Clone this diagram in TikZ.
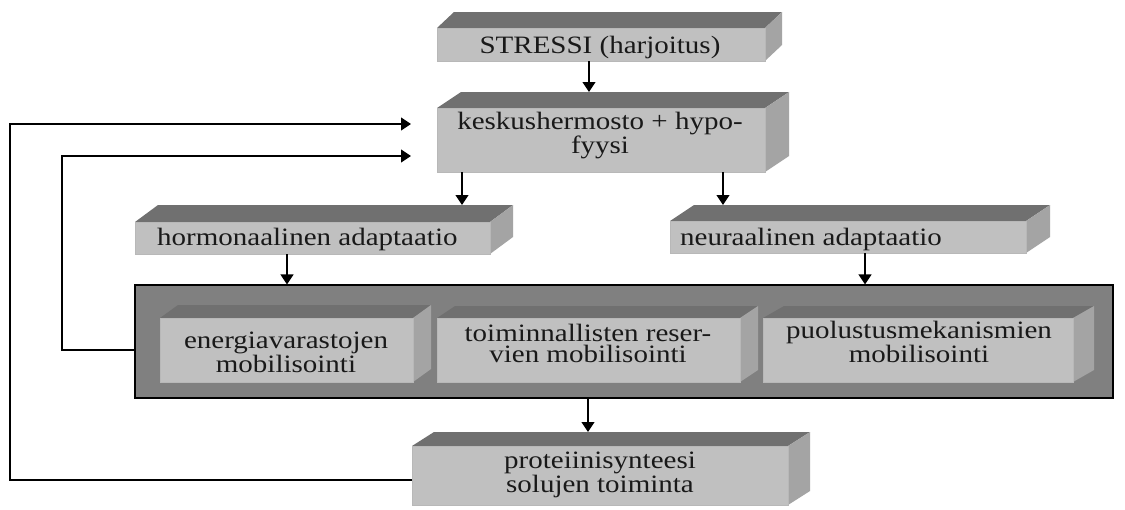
\documentclass[tikz,border=0pt]{standalone}
\usepackage{fontspec}
\setmainfont[FakeStretch=1.16]{Liberation Serif}
\usetikzlibrary{arrows.meta}
\definecolor{frontf}{HTML}{C0C0C0}
\definecolor{topf}{HTML}{707070}
\definecolor{sidef}{HTML}{A4A4A4}
\definecolor{contf}{HTML}{808080}
\newcommand{\cubebox}[7]{%
  \fill[topf] (#2,#3) -- (#2+#6,#3-#7) -- (#4+#6,#3-#7) -- (#4,#3) -- cycle;
  \fill[sidef] (#4,#3) -- (#4+#6,#3-#7) -- (#4+#6,#5-#7) -- (#4,#5) -- cycle;
  \node[frontbox, minimum width={(#4-#2)*1pt}, minimum height={(#5-#3)*1pt}] (#1) at ({(#2+#4)/2},{(#3+#5)/2}) {};
  \coordinate (#1-top) at ({(#2+#4)/2},#3-#7);
}
\begin{document}
\begin{tikzpicture}[x=1pt,y=-1pt,
  frontbox/.style={rectangle, fill=frontf, draw=black!28, line width=0.6pt, inner sep=0pt, outer sep=0pt},
  lbl/.style={font=\fontsize{25}{20.5}\selectfont, inner sep=0pt, text=black!90},
  arr/.style={line width=1.2pt, -{Triangle[width=13pt,length=10pt]}},
  line/.style={line width=1.2pt}]
\useasboundingbox (0,0) rectangle (1125,509);
\fill[white] (0,0) rectangle (1125,509);

% boxes
\cubebox{stress}{437}{28}{765}{61}{17}{16}
\cubebox{kesk}{437}{108}{765}{172}{24}{16}
\cubebox{horm}{135}{222}{490}{254}{23}{17}
\cubebox{neur}{670}{221}{1026}{253}{24}{16}
\node[rectangle, fill=contf, draw=black, line width=1.2pt, inner sep=0pt, minimum width=978pt, minimum height=113pt] (cont) at (624,341.5) {};
\cubebox{energ}{160}{318}{413}{382}{18}{13}
\cubebox{toim}{437}{318}{740}{382}{18}{12}
\cubebox{puol}{763}{318}{1073}{382}{21}{12}
\cubebox{prot}{412}{446}{788}{505}{22}{14}

% labels (anchor=base is the last line's baseline)
\node[lbl, anchor=base] (tstress) at (600,53) {STRESSI (harjoitus)};
\node[lbl, anchor=base, align=center] (tkesk) at (600,153) {keskushermosto + hypo-\\fyysi};
\node[lbl, anchor=base west] (thorm) at (157,245) {hormonaalinen adaptaatio};
\node[lbl, anchor=base west] (tneur) at (680,245) {neuraalinen adaptaatio};
\node[lbl, anchor=base, align=center] (tenerg) at (286,372) {energiavarastojen\\mobilisointi};
\node[lbl, anchor=base, align=center] (ttoim) at (588,362) {toiminnallisten reser-\\vien mobilisointi};
\node[lbl, anchor=base, align=center] (tpuol) at (919,362) {puolustusmekanismien\\mobilisointi};
\node[lbl, anchor=base, align=center] (tprot) at (600,492) {proteiinisynteesi\\solujen toiminta};

% arrows
\coordinate (a1) at ([xshift=-12pt]stress.south);
\draw[arr] (a1) -- (a1 |- kesk-top);
\coordinate (a2) at ([xshift=-139pt]kesk.south);
\draw[arr] (a2) -- (a2 |- horm-top);
\coordinate (a3) at ([xshift=122pt]kesk.south);
\draw[arr] (a3) -- (a3 |- neur-top);
\coordinate (a4) at ([xshift=-25.5pt]horm.south);
\draw[arr] (a4) -- (a4 |- cont.north);
\coordinate (a5) at ([xshift=17pt]neur.south);
\draw[arr] (a5) -- (a5 |- cont.north);
\coordinate (a6) at ([xshift=-36pt]cont.south);
\draw[arr] (a6) -- (a6 |- prot-top);

% feedback loops
\coordinate (in1) at (411,124);
\coordinate (in2) at (411,156);
\coordinate (f1) at ([yshift=-8.5pt]cont.west);
\coordinate (f2) at ([yshift=-4.5pt]prot.west);
\draw[arr] (f1) -- (62,350) -- (62,156) -- (in2);
\draw[arr] (f2) -- (10,480) -- (10,124) -- (in1);
\end{tikzpicture}
\end{document}
